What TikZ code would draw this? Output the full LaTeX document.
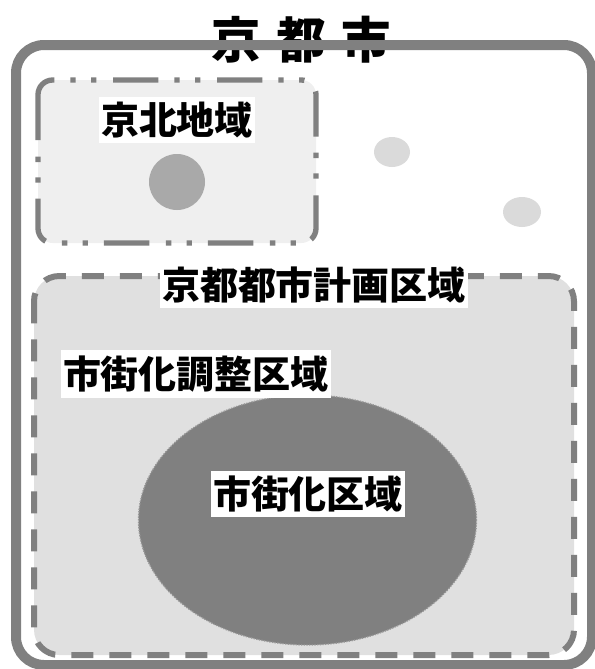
\documentclass[tikz,border=0pt]{standalone}
\usepackage{fontspec}
\newfontfamily\cjk{Noto Sans CJK JP}
\definecolor{framegray}{HTML}{808080}
\definecolor{northfill}{HTML}{EFEFEF}
\definecolor{cityfill}{HTML}{E0E0E0}
\definecolor{spotfill}{HTML}{DADADA}
\definecolor{circfill}{HTML}{A9A9A9}
\definecolor{corefill}{HTML}{808080}
\begin{document}
\begin{tikzpicture}[x=0.75pt,y=-0.75pt,
  lbl/.style={fill=white,inner xsep=1.5pt,inner ysep=4pt,
    font=\cjk\bfseries\fontsize{28.5}{30}\selectfont},
  titlefont/.style={inner sep=0pt,font=\cjk\bfseries\fontsize{37}{40}\selectfont},
  outerframe/.style={draw=framegray,line width=7.5pt,rounded corners=21pt},
  northbox/.style={draw=framegray,fill=northfill,line width=4pt,rounded corners=11pt,
    dash pattern=on 34pt off 12.5pt on 4pt off 11.5pt on 4pt off 12pt},
  planbox/.style={draw=framegray,fill=cityfill,line width=4.5pt,rounded corners=19pt,
    dash pattern=on 16.5pt off 12pt},
  spot/.style={fill=spotfill},
  core/.style={fill=corefill,draw=corefill!80!white,line width=1pt,densely dotted}]
\useasboundingbox (0,0) rectangle (595,669);
% regions
\path[northbox] (38,80) rectangle (316,243);
\path[planbox] (34,276) rectangle (574,655);
\fill[circfill] (177,182) circle [radius=28];
\fill[spot] (392,152) ellipse [x radius=18, y radius=15];
\fill[spot] (522,212) ellipse [x radius=19, y radius=15];
\path[core] (307.5,520) ellipse [x radius=169, y radius=125];
% labels
\node[lbl] (north) at (177,120) {京北地域};
\node[lbl] (plan) at (314,285) {京都都市計画区域};
\node[lbl] (adjust) at (196,374) {市街化調整区域};
\node[lbl] (urban) at (308,494) {市街化区域};
\node[titlefont] (title) at (301,40) {京\hspace{12pt}都\hspace{12pt}市};
% outer frame on top
\path[outerframe] (16,45) rectangle (592,665);
\end{tikzpicture}
\end{document}
